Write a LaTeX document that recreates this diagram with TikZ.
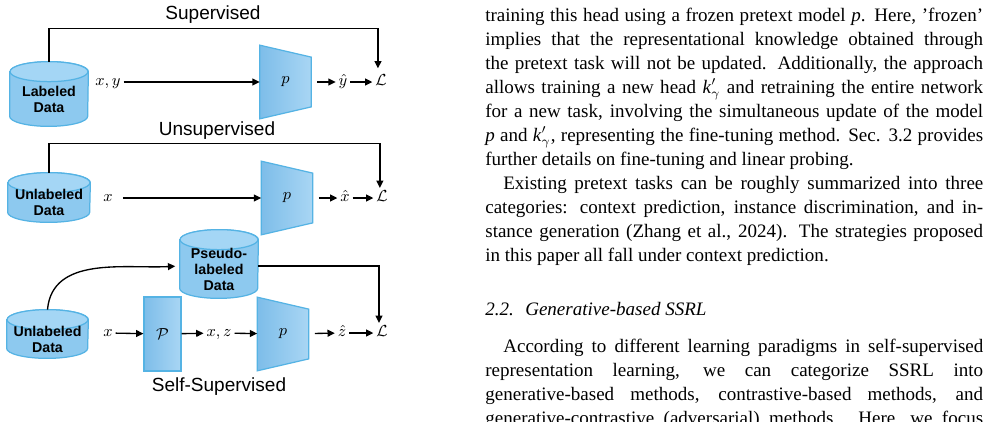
\documentclass[tikz,border=0pt]{standalone}
\usepackage{fontspec}
\setmainfont{Liberation Serif}
\newfontfamily\diagfont{Liberation Sans}
\usepackage{tikz}
\usetikzlibrary{arrows.meta,positioning,calc,backgrounds}

\definecolor{dbfill}{HTML}{8DC9EF}
\definecolor{dbtop}{HTML}{A4D6F5}
\definecolor{dbline}{HTML}{55B3E4}
\definecolor{encleft}{HTML}{7DBDE9}
\definecolor{encright}{HTML}{A9D6F4}
\newcommand\pxu{0.5625pt}
\newcommand\dbry{5.625pt}

\begin{document}
\begin{tikzpicture}[
  x=\pxu, y=-\pxu,
  font=\diagfont,
  % db node = cylinder body below the centre of its top ellipse
  db/.style={inner sep=0pt,align=center,font=\diagfont\bfseries\fontsize{8}{9}\selectfont},
  dbshape/.style={draw=dbline,line width=0.7pt,fill=dbfill},
  dbend/.style={draw=dbline,line width=0.7pt,fill=dbtop},
  ttl/.style={inner sep=0pt,font=\diagfont\fontsize{10.7}{12}\selectfont},
  var/.style={inner sep=1.5pt,text height=6pt,text depth=2pt,font=\fontsize{9}{10}\selectfont},
  trapbox/.style={minimum width=51*\pxu,minimum height=73*\pxu,inner sep=0pt,font=\fontsize{9}{10}\selectfont},
  enc/.style={draw=dbline,line width=0.7pt,left color=encleft,right color=encright},
  arr/.style={-{Triangle[length=4.1pt,width=3.9pt]},line width=0.75pt},
  txt/.style={anchor=base west,inner sep=0pt,font=\rmfamily\fontsize{10.7}{13}\selectfont},
]
\useasboundingbox (0,0) rectangle (993,421);
\clip (0,0) rectangle (993,421);

% supervised
\node[ttl] (supT) at (213,15) {Supervised};
\node[db,minimum width=78*\pxu,minimum height=54*\pxu] (lab) at (49,99) {Labeled\\Data};
\node[var] (xy1) at (108,82) {$x,y$};
\node[trapbox] (p1) at (285.5,82) {$p$};
\node[var] (yh) at (343,82) {$\hat{y}$};
\node[var] (L1) at (381,82) {$\mathcal{L}$};
\draw[arr] (xy1) -- (p1);
\draw[arr,shorten <=3.4pt] (p1) -- (yh);
\draw[arr] (yh) -- (L1);
\draw[arr,shorten >=2pt] ([yshift=\dbry]lab.north) -- ++(0,-33) -| ([xshift=-1.7pt]L1.north);

% unsupervised
\node[ttl] (unsT) at (217,131) {Unsupervised};
\node[db,minimum width=82*\pxu,minimum height=39*\pxu] (unl1) at (49,202.5) {Unlabeled\\Data};
\node[var] (x2) at (108,198) {$x$};
\node[trapbox] (p2) at (287,198) {$p$};
\node[var] (xh) at (345,198) {$\hat{x}$};
\node[var] (L2) at (382,198) {$\mathcal{L}$};
\draw[arr,shorten <=4pt] (x2) -- (p2);
\draw[arr,shorten <=3.4pt] (p2) -- (xh);
\draw[arr] (xh) -- (L2);
\draw[arr] ([yshift=\dbry]unl1.north) -- ++(0,-29) -| ([xshift=-1.2pt]L2.north);

% self-supervised
\node[db,minimum width=78*\pxu,minimum height=58*\pxu] (psd) at (219,269) {Pseudo-\\labeled\\Data};
\node[db,minimum width=81*\pxu,minimum height=38*\pxu] (unl2) at (47.5,339) {Unlabeled\\Data};
\node[var] (x3) at (108,333) {$x$};
\node[enc,minimum width=37*\pxu,minimum height=74*\pxu,font=\fontsize{9}{10}\selectfont] (pre) at (162.5,334) {$\mathcal{P}$};
\node[var] (xz) at (219,333) {$x,z$};
\node[trapbox] (p3) at (283,334) {$p$};
\node[var] (zh) at (342,333) {$\hat{z}$};
\node[var] (L3) at (382,333) {$\mathcal{L}$};
\node[ttl] (sslT) at (219,387) {Self-Supervised};
\draw[arr] (x3) -- (pre);
\draw[arr] (pre) -- (xz);
\draw[arr] (xz) -- (p3);
\draw[arr,shorten <=3.4pt] (p3) -- (zh);
\draw[arr] (zh) -- (L3);
\draw[arr,shorten >=2.5pt] ([yshift=\dbry]unl2.north) to[out=85,in=183] ([yshift=1.7pt]psd.west);
\draw[arr] ([yshift=1.7pt]psd.east) -| ([xshift=-1.7pt]L3.north);

\begin{scope}[on background layer]
\foreach \q/\r in {lab/39,unl1/41,psd/39,unl2/40.5} {
  \draw[dbshape] (\q.north west) -- ([yshift=\dbry]\q.south west)
    arc[start angle=180,end angle=360,x radius=\r*\pxu,y radius=\dbry]
    -- (\q.north east) arc[start angle=0,end angle=180,x radius=\r*\pxu,y radius=\dbry] -- cycle;
  \draw[dbend] (\q.north) ellipse [x radius=\r*\pxu,y radius=\dbry];
}
\foreach \q in {p1,p2,p3}
  \draw[enc] (\q.north west) -- ([yshift=-6.75pt]\q.north east) -- ([yshift=6.75pt]\q.south east) -- (\q.south west) -- cycle;
\end{scope}

% page text
\node[txt] (t1) at (485,21) {\makebox[280pt][s]{training this head using a frozen pretext model \textit{p}. Here, 'frozen'}};
\node[txt] (t2) at (485,45) {\makebox[280pt][s]{implies that the representational knowledge obtained through}};
\node[txt] (t3) at (485,69) {\makebox[280pt][s]{the pretext task will not be updated. Additionally, the approach}};
\node[txt] (t4) at (485,93) {\makebox[280pt][s]{allows training a new head \textit{k}$'_\gamma$ and retraining the entire network}};
\node[txt] (t5) at (485,117) {\makebox[280pt][s]{for a new task, involving the simultaneous update of the model}};
\node[txt] (t6) at (485,141) {\makebox[280pt][s]{\textit{p} and \textit{k}$'_\gamma$, representing the fine-tuning method. Sec. 3.2 provides}};
\node[txt] (t7) at (485,165) {further details on fine-tuning and linear probing.};
\node[txt] (t8) at (503,189) {\makebox[270pt][s]{Existing pretext tasks can be roughly summarized into three}};
\node[txt] (t9) at (485,213) {\makebox[280pt][s]{categories: context prediction, instance discrimination, and in-}};
\node[txt] (t10) at (485,237) {\makebox[280pt][s]{stance generation (Zhang et al., 2024). The strategies proposed}};
\node[txt] (t11) at (485,261) {in this paper all fall under context prediction.};
\node[txt] (head) at (485,315) {\textit{2.2.\hspace{0.6em}Generative-based SSRL}};
\node[txt] (t12) at (503,352) {\makebox[270pt][s]{According to different learning paradigms in self-supervised}};
\node[txt] (t13) at (485,376) {\makebox[280pt][s]{representation learning, we can categorize SSRL into}};
\node[txt] (t14) at (485,400) {\makebox[280pt][s]{generative-based methods, contrastive-based methods, and}};
\node[txt] (t15) at (485,424) {\makebox[280pt][s]{generative-contrastive (adversarial) methods. Here, we focus}};
\end{tikzpicture}
\end{document}
